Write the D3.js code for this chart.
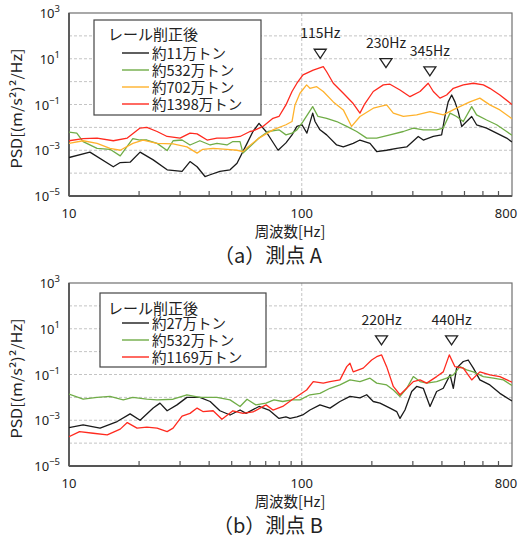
<!DOCTYPE html>
<html><head><meta charset="utf-8">
<script src="https://cdn.jsdelivr.net/npm/d3@7"></script>
<style>
body{margin:0;background:#fff;}
svg{display:block;font-family:"Noto Sans CJK JP","Noto Sans",sans-serif;}
</style>
</head><body><svg id="c" width="518" height="541"></svg>
<script>
// ---------- DATA ----------
const freqTickLabels = [10, 100, 800];
const freqMinorTicks = [20,30,40,50,60,70,80,90,100,200,300,400,500,600,700];
const psdTickExps = [3, 1, -1, -3, -5];
const legendTitle = "レール削正後";

// Panel A (測点 A)
const seriesNamesA = ["約11万トン", "約532万トン", "約702万トン", "約1398万トン"];
const aBlack = [[10,4.8e-4],[12.3,8.3e-4],[15.5,1.9e-4],[16.6,2.9e-4],[18.3,3.0e-4],[20.2,8.3e-4],[23.0,3.8e-4],[26.4,1.4e-4],[30.6,1.2e-4],[33.1,3.2e-4],[35.5,1.9e-4],[38.4,7.1e-5],[40.4,8.5e-5],[44.5,1.2e-4],[49.2,1.4e-4],[52.7,2.7e-4],[58.2,2.0e-3],[61.7,6.6e-3],[65.5,1.5e-2],[70.2,6.6e-3],[79.1,1.0e-3],[85.5,2.1e-3],[90.8,4.7e-3],[95.3,1.1e-2],[100.2,1.3e-2],[105.2,5.6e-3],[111.4,4.2e-2],[114,1.8e-2],[119.7,7.8e-3],[127.9,4.7e-3],[141.2,1.7e-3],[150.8,1.4e-3],[166.3,2.0e-3],[177.8,2.8e-3],[196.4,2.0e-3],[209.8,8.8e-4],[231.5,1.0e-3],[255.7,1.2e-3],[282.3,1.4e-3],[316.5,4.0e-3],[332.7,2.8e-3],[367.3,4.0e-3],[398.8,4.7e-3],[412.1,3.0e-2],[425.6,0.13],[440.5,0.26],[455,0.13],[470,4.9e-2],[486.3,1.1e-2],[510.7,1.8e-2],[537,3.0e-2],[563.6,1.3e-2],[622.3,9.3e-3],[687.1,5.6e-3],[758.6,3.4e-3],[800,2.3e-3]];
const aGreen = [[10,6.2e-3],[10.8,5.6e-3],[11.5,2.4e-3],[13.2,1.2e-3],[15,1.1e-3],[16.6,5.7e-4],[18.8,3.2e-3],[20.2,2.8e-3],[21.6,2.8e-3],[23.9,2.0e-3],[26.4,9.7e-4],[28,2.6e-3],[30.6,2.8e-3],[33.1,1.7e-3],[36.5,2.6e-3],[40.4,1.7e-3],[43.2,2.0e-3],[47.7,1.7e-3],[50.6,2.4e-3],[54.3,2.4e-3],[55.9,7.5e-4],[58.7,1.2e-3],[65.5,3.4e-3],[71.6,6.6e-3],[79.8,7.8e-3],[85.5,4.7e-3],[90.8,5.6e-3],[95.3,7.8e-3],[101.2,1.8e-2],[111.4,8.1e-2],[117.4,3.0e-2],[127.9,2.5e-2],[141.2,1.8e-2],[156,1.1e-2],[172.1,6.6e-3],[190,3.4e-3],[209.8,3.4e-3],[239.3,4.7e-3],[273.1,6.6e-3],[301.4,9.3e-3],[332.7,7.8e-3],[379.6,7.8e-3],[405.3,9.3e-3],[433.5,4.2e-2],[462.4,3.0e-2],[494.2,1.8e-2],[537,8.1e-2],[563.6,3.5e-2],[622.3,2.1e-2],[687.1,1.3e-2],[758.6,6.6e-3],[800,4.5e-3]];
const aOrange = [[10,2.0e-3],[11.5,2.6e-3],[13.2,2.0e-3],[15,1.2e-3],[16.6,1.0e-3],[18.8,2.0e-3],[20.8,2.8e-3],[23.9,2.0e-3],[28,1.9e-3],[32.1,1.4e-3],[35.5,7.5e-4],[37.6,1.1e-3],[41.6,1.2e-3],[47.7,1.1e-3],[52.7,1.0e-3],[55.9,8.7e-4],[58.7,1.4e-3],[65.5,3.4e-3],[75.2,7.8e-3],[85.5,1.3e-2],[90.8,1.8e-2],[93.5,9.6e-2],[98.2,0.31],[104.9,0.72],[108.4,0.51],[115.9,0.60],[123.7,0.37],[136.6,0.13],[150.8,5.8e-2],[163.7,1.1e-2],[177.8,3.0e-2],[202.8,6.9e-2],[231.5,9.6e-2],[247.3,4.2e-2],[273.1,3.0e-2],[311.6,3.5e-2],[355.6,4.9e-2],[405.3,3.5e-2],[462.4,6.9e-2],[527.3,0.13],[582.1,0.19],[642.7,9.6e-2],[709.6,5.8e-2],[800,2.4e-2]];
const aRed = [[10,2.6e-3],[11.5,3.2e-3],[13.2,3.4e-3],[15.5,2.6e-3],[17.8,3.4e-3],[20.2,9.3e-3],[21.6,1.0e-2],[23.9,6.6e-3],[26.4,4.0e-3],[30,3.4e-3],[33.1,5.6e-3],[35.5,5.2e-3],[39.2,2.8e-3],[43.2,3.4e-3],[47.7,3.4e-3],[54.3,4.0e-3],[59.9,6.6e-3],[61.7,7.0e-3],[68.1,1.1e-2],[75.2,2.5e-2],[79.8,3.0e-2],[85.5,9.6e-2],[90.8,0.37],[95.3,0.85],[101.2,1.96],[112,3.2],[123.7,4.5],[127.9,2.7],[136.6,0.85],[150.8,0.31],[166.3,0.11],[177.8,4.2e-2],[186.8,0.11],[202.8,0.37],[224,0.72],[239.3,0.77],[264.2,0.43],[291.7,0.22],[322.1,0.37],[349.2,0.85],[367.3,0.37],[392.4,0.19],[419.1,0.26],[447.7,0.51],[494.2,0.72],[545.8,0.85],[602.6,0.72],[642.7,0.51],[709.6,0.26],[800,0.10]];
const markersA = [{label:"115Hz", freq:120, level:10.5},{label:"230Hz", freq:230, level:4.1},{label:"345Hz", freq:355, level:1.8}];

// Panel B (測点 B)
const seriesNamesB = ["約27万トン", "約532万トン", "約1169万トン"];
const bBlack = [[10,4.8e-4],[11.5,6.3e-4],[13.6,4.5e-4],[16.1,8.8e-4],[18.3,1.9e-3],[20.2,1.0e-3],[23,3.4e-3],[24.6,5.6e-3],[26.4,2.6e-3],[29.1,4.7e-3],[32.1,1.0e-2],[36.5,1.0e-2],[40.4,6.6e-3],[44.5,2.6e-3],[49.2,1.7e-3],[54.3,2.8e-3],[57.6,2.0e-3],[65.5,4.0e-3],[72.3,2.8e-3],[79.8,1.2e-3],[85.5,1.4e-3],[89,1.2e-3],[95.3,1.4e-3],[100.9,1.7e-3],[108.4,2.8e-3],[119.7,4.7e-3],[132.2,3.4e-3],[145.9,6.6e-3],[161.1,1.1e-2],[177.8,9.5e-3],[190,1.3e-2],[202.8,6.6e-3],[216.8,5.6e-3],[239.3,3.4e-3],[255.7,2.4e-3],[264.2,1.2e-3],[277.5,2.8e-3],[296.6,1.8e-2],[311.6,3.0e-2],[332.7,2.5e-2],[355.6,4.0e-3],[379.6,1.8e-2],[405.3,2.5e-2],[433.5,9.6e-2],[447.7,2.5e-2],[462.4,0.19],[494.2,0.37],[518.6,0.43],[545.8,0.19],[582.1,5.8e-2],[642.7,3.5e-2],[709.6,1.5e-2],[800,7.0e-3]];
const bGreen = [[10,1.4e-2],[11.5,8.3e-3],[13.2,1.0e-2],[15,1.1e-2],[17.1,7.8e-3],[18.8,1.0e-2],[21.6,8.3e-3],[23.9,7.8e-3],[28,8.3e-3],[32.1,1.3e-2],[36.5,1.0e-2],[43.2,1.0e-2],[49.2,7.8e-3],[54.3,4.0e-3],[58.2,8.3e-3],[63.5,4.7e-3],[70.2,5.6e-3],[76,7.8e-3],[82.8,6.6e-3],[90.8,7.8e-3],[98.2,7.8e-3],[108.4,1.3e-2],[119.7,1.5e-2],[132.2,2.5e-2],[145.9,3.5e-2],[161.1,5.8e-2],[177.8,4.9e-2],[196.4,6.9e-2],[209.8,4.2e-2],[231.5,3.5e-2],[247.3,2.1e-2],[264.2,1.1e-2],[282.3,2.5e-2],[301.4,8.1e-2],[322.1,4.9e-2],[344.1,4.2e-2],[379.6,4.9e-2],[419.1,6.9e-2],[447.7,9.6e-2],[478.2,0.22],[510.7,0.16],[545.8,0.13],[602.6,8.1e-2],[665.3,6.9e-2],[734.5,5.8e-2],[800,3.3e-2]];
const bRed = [[10,1.9e-4],[11.1,3.2e-4],[12.7,2.7e-4],[14.6,2.3e-4],[16.6,4.1e-4],[17.8,7.9e-4],[19.6,4.5e-4],[21.6,5.0e-4],[23.9,4.5e-4],[26.4,3.2e-4],[28,4.5e-4],[30.6,1.5e-3],[33.1,2.0e-3],[35.5,3.4e-3],[37.6,2.4e-3],[41.6,2.6e-3],[45.4,1.1e-3],[50.6,2.6e-3],[55.9,2.0e-3],[61.7,2.3e-3],[70.2,4.7e-3],[75.2,2.8e-3],[82.8,4.0e-3],[90.8,7.8e-3],[95.3,1.1e-2],[104.9,2.1e-2],[112,4.9e-2],[123.7,4.2e-2],[132.2,4.9e-2],[145.9,5.8e-2],[156,0.22],[161.1,0.31],[166.3,0.13],[183.7,0.19],[199.6,0.43],[209.8,0.60],[220.3,0.72],[231.5,0.22],[247.3,3.0e-2],[264.2,1.3e-2],[282.3,2.5e-2],[301.4,4.9e-2],[322.1,5.8e-2],[344.1,4.2e-2],[379.6,8.1e-2],[405.3,0.13],[430.2,0.72],[455,0.22],[494.2,0.19],[537,5.8e-2],[582.1,0.13],[642.7,9.6e-2],[709.6,8.1e-2],[800,4.6e-2]];
const markersB = [{label:"220Hz", freq:220, level:1.96},{label:"440Hz", freq:440, level:1.96}];

const colors = {black:"#1a1a1a", green:"#70ad47", orange:"#ffb22c", red:"#ff2a1f"};

// ---------- DRAW ----------
const svg = d3.select("#c");
const x = d3.scaleLog().domain([10, 800]).range([69, 512]);

function panel(cfg) {
  const top = cfg.top, h = 183, bottom = top + h;
  const y = d3.scaleLog().domain([1e-5, 1e3]).range([bottom, top]);
  const g = svg.append("g");
  const clipId = "clip" + cfg.id;
  svg.append("clipPath").attr("id", clipId).append("rect")
    .attr("x", 69).attr("y", top).attr("width", 443).attr("height", h);

  // gridlines
  const exps = d3.range(-4, 3);
  g.selectAll(".hg").data(exps).enter().append("line")
    .attr("x1", 69).attr("x2", 512)
    .attr("y1", d => y(Math.pow(10, d))).attr("y2", d => y(Math.pow(10, d)))
    .attr("stroke", "#c4c4c4").attr("stroke-width", 1).attr("stroke-dasharray", "3,2");
  g.append("line").attr("x1", x(100)).attr("x2", x(100)).attr("y1", top).attr("y2", bottom)
    .attr("stroke", "#c4c4c4").attr("stroke-width", 1).attr("stroke-dasharray", "3,2");

  // frame
  g.append("rect").attr("x", 69).attr("y", top).attr("width", 443).attr("height", h)
    .attr("fill", "none").attr("stroke", "#707070").attr("stroke-width", 1.2);
  g.append("line").attr("x1", 69).attr("x2", 69).attr("y1", top).attr("y2", bottom)
    .attr("stroke", "#555").attr("stroke-width", 1.8);
  g.append("line").attr("x1", 69).attr("x2", 512).attr("y1", bottom).attr("y2", bottom)
    .attr("stroke", "#555").attr("stroke-width", 1.8);

  // minor ticks (inward)
  g.selectAll(".mt").data(freqMinorTicks).enter().append("line")
    .attr("x1", d => x(d)).attr("x2", d => x(d))
    .attr("y1", bottom).attr("y2", bottom - 5)
    .attr("stroke", "#555").attr("stroke-width", 1.2);

  // series
  const line = d3.line().x(d => x(d[0])).y(d => y(d[1]));
  const sg = g.append("g").attr("clip-path", `url(#${clipId})`);
  cfg.series.forEach(s => {
    sg.append("path").datum(s.data).attr("d", line)
      .attr("fill", "none").attr("stroke", s.color).attr("stroke-width", 1.3)
      .attr("stroke-linejoin", "round");
  });

  // y tick labels
  psdTickExps.forEach(e => {
    const t = g.append("text").attr("x", 60).attr("y", y(Math.pow(10, e)) + 5)
      .attr("text-anchor", "end").attr("font-size", 13).attr("fill", "#222")
      .style("font-family", "'Noto Sans',sans-serif");
    t.append("tspan").text("10");
    t.append("tspan").attr("dy", -6).attr("font-size", 9.5).text(e < 0 ? "−" + (-e) : String(e));
  });

  // x tick labels
  freqTickLabels.forEach(f => {
    g.append("text").attr("x", f === 800 ? x(f) - 6 : x(f)).attr("y", bottom + 22)
      .attr("text-anchor", "middle").attr("font-size", 13).attr("fill", "#222")
      .style("font-family", "'Noto Sans',sans-serif").text(f);
  });

  // axis titles
  g.append("text").attr("x", 290).attr("y", bottom + 41).attr("text-anchor", "middle")
    .attr("font-size", 14.5).attr("fill", "#222").text("周波数[Hz]");
  g.append("text").attr("transform", `translate(22,${top + h / 2 + 4}) rotate(-90)`)
    .attr("text-anchor", "middle").attr("font-size", 14).attr("fill", "#222")
    .attr("textLength", 120).attr("lengthAdjust", "spacingAndGlyphs")
    .text("PSD[(m/s²)²/Hz]");
  g.append("text").attr("x", 268).attr("y", bottom + 67).attr("text-anchor", "middle")
    .attr("font-size", 20).attr("fill", "#222").text(cfg.caption);

  // markers
  cfg.markers.forEach(m => {
    const mx = x(m.freq), my = y(m.level);
    g.append("path").attr("d", `M${mx - 6},${my - 9}L${mx + 6},${my - 9}L${mx},${my}Z`)
      .attr("fill", "#fff").attr("stroke", "#222").attr("stroke-width", 1.3);
    g.append("text").attr("x", mx).attr("y", my - 20).attr("text-anchor", "middle")
      .attr("font-size", 14).attr("fill", "#222").text(m.label);
  });

  // legend
  const L = cfg.legend;
  g.append("rect").attr("x", L.x).attr("y", L.y).attr("width", L.w).attr("height", L.h)
    .attr("fill", "#fff").attr("stroke", "#444").attr("stroke-width", 1.2);
  g.append("text").attr("x", 108).attr("y", L.titleY).attr("font-size", 15).attr("fill", "#222").text(legendTitle);
  cfg.series.forEach((s, i) => {
    const ly = L.firstRow + i * 17;
    g.append("line").attr("x1", 122).attr("x2", 149).attr("y1", ly).attr("y2", ly)
      .attr("stroke", s.color).attr("stroke-width", 1.4);
    g.append("text").attr("x", 152).attr("y", ly + 6).attr("font-size", 14.5).attr("fill", "#222").text(s.name);
  });
}

panel({
  id: "A", top: 13, caption: "（a）測点 A",
  series: [
    {name: seriesNamesA[0], data: aBlack, color: colors.black},
    {name: seriesNamesA[1], data: aGreen, color: colors.green},
    {name: seriesNamesA[2], data: aOrange, color: colors.orange},
    {name: seriesNamesA[3], data: aRed, color: colors.red}
  ],
  markers: markersA,
  legend: {x: 94, y: 20, w: 167, h: 95, titleY: 40, firstRow: 53}
});
panel({
  id: "B", top: 283, caption: "（b）測点 B",
  series: [
    {name: seriesNamesB[0], data: bBlack, color: colors.black},
    {name: seriesNamesB[1], data: bGreen, color: colors.green},
    {name: seriesNamesB[2], data: bRed, color: colors.red}
  ],
  markers: markersB,
  legend: {x: 100, y: 293, w: 166, h: 74, titleY: 314, firstRow: 323}
});
</script>
</body></html>
